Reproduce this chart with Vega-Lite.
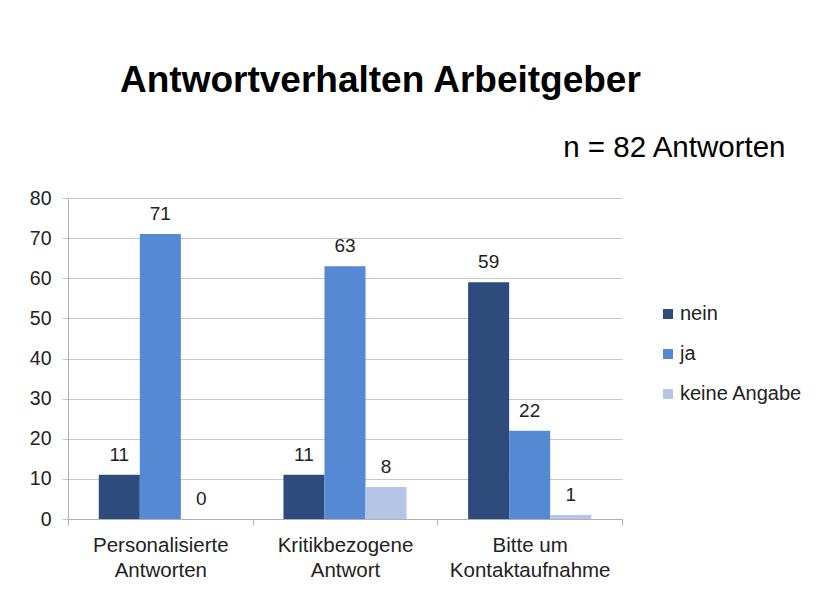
{
  "$schema": "https://vega.github.io/schema/vega-lite/v6.json",
  "width": 554,
  "height": 321,
  "autosize": {"type": "none"},
  "padding": {"left": 68, "top": 198, "right": 195, "bottom": 97},
  "background": "white",
  "title": {
    "text": "Antwortverhalten Arbeitgeber",
    "anchor": "start",
    "frame": "group",
    "font": "Liberation Sans",
    "fontSize": 37,
    "fontWeight": "bold",
    "color": "#000000",
    "baseline": "alphabetic",
    "dx": 52,
    "dy": -3,
    "offset": 0
  },
  "data": {
    "values": [
      {"kategorie": "Personalisierte Antworten", "antwort": "nein", "anzahl": 11},
      {"kategorie": "Personalisierte Antworten", "antwort": "ja", "anzahl": 71},
      {"kategorie": "Personalisierte Antworten", "antwort": "keine Angabe", "anzahl": 0},
      {"kategorie": "Kritikbezogene Antwort", "antwort": "nein", "anzahl": 11},
      {"kategorie": "Kritikbezogene Antwort", "antwort": "ja", "anzahl": 63},
      {"kategorie": "Kritikbezogene Antwort", "antwort": "keine Angabe", "anzahl": 8},
      {"kategorie": "Bitte um Kontaktaufnahme", "antwort": "nein", "anzahl": 59},
      {"kategorie": "Bitte um Kontaktaufnahme", "antwort": "ja", "anzahl": 22},
      {"kategorie": "Bitte um Kontaktaufnahme", "antwort": "keine Angabe", "anzahl": 1}
    ]
  },
  "encoding": {
    "x": {
      "field": "kategorie",
      "type": "nominal",
      "sort": ["Personalisierte Antworten", "Kritikbezogene Antwort", "Bitte um Kontaktaufnahme"],
      "scale": {"paddingInner": 0, "paddingOuter": 0},
      "axis": {
        "title": null,
        "labelAngle": 0,
        "labelExpr": "!isValid(datum.value) ? '' : datum.value == 'Bitte um Kontaktaufnahme' ? ['Bitte um', 'Kontaktaufnahme'] : split(datum.value, ' ')",
        "labelFont": "Liberation Sans",
        "labelFontSize": 20.5,
        "labelColor": "#222222",
        "labelLineHeight": 25,
        "labelPadding": 10,
        "labelBaseline": "top",
        "tickBand": "extent",
        "tickSize": 6,
        "tickColor": "#b0b0b0",
        "domainColor": "#b0b0b0",
        "grid": false
      }
    },
    "xOffset": {
      "field": "antwort",
      "type": "nominal",
      "sort": ["nein", "ja", "keine Angabe"],
      "scale": {"paddingInner": 0, "paddingOuter": 0.75}
    },
    "y": {
      "field": "anzahl",
      "type": "quantitative",
      "scale": {"domain": [0, 80], "nice": false},
      "axis": {
        "values": [0, 10, 20, 30, 40, 50, 60, 70, 80],
        "title": "n = 82 Antworten",
        "titleAngle": 0,
        "titleX": 717,
        "titleY": -42,
        "titleAlign": "right",
        "titleBaseline": "alphabetic",
        "titleFont": "Liberation Sans",
        "titleFontSize": 29.5,
        "titleFontWeight": "normal",
        "titleColor": "#000000",
        "labelFont": "Liberation Sans",
        "labelFontSize": 19.5,
        "labelColor": "#222222",
        "labelPadding": 11,
        "tickSize": 6,
        "tickColor": "#c4c4c4",
        "domainColor": "#b0b0b0",
        "gridColor": "#c8c8c8",
        "gridWidth": 1
      }
    }
  },
  "layer": [
    {
      "mark": {"type": "bar"},
      "encoding": {
        "color": {
          "field": "antwort",
          "type": "nominal",
          "sort": ["nein", "ja", "keine Angabe"],
          "scale": {"domain": ["nein", "ja", "keine Angabe"], "range": ["#2d4c7c", "#5689d3", "#b5c5e5"]},
          "legend": {
            "title": null,
            "orient": "none",
            "legendX": 590,
            "legendY": 106,
            "symbolType": "square",
            "symbolSize": 100,
            "symbolStrokeWidth": 0,
            "labelFont": "Liberation Sans",
            "labelFontSize": 20,
            "labelColor": "#222222",
            "labelOffset": 2,
            "rowPadding": 20
          }
        }
      }
    },
    {
      "mark": {"type": "text", "baseline": "alphabetic", "dy": -14, "font": "Liberation Sans", "fontSize": 19, "color": "#222222"},
      "encoding": {
        "text": {"field": "anzahl", "type": "quantitative"}
      }
    }
  ],
  "config": {
    "view": {"stroke": null}
  }
}
